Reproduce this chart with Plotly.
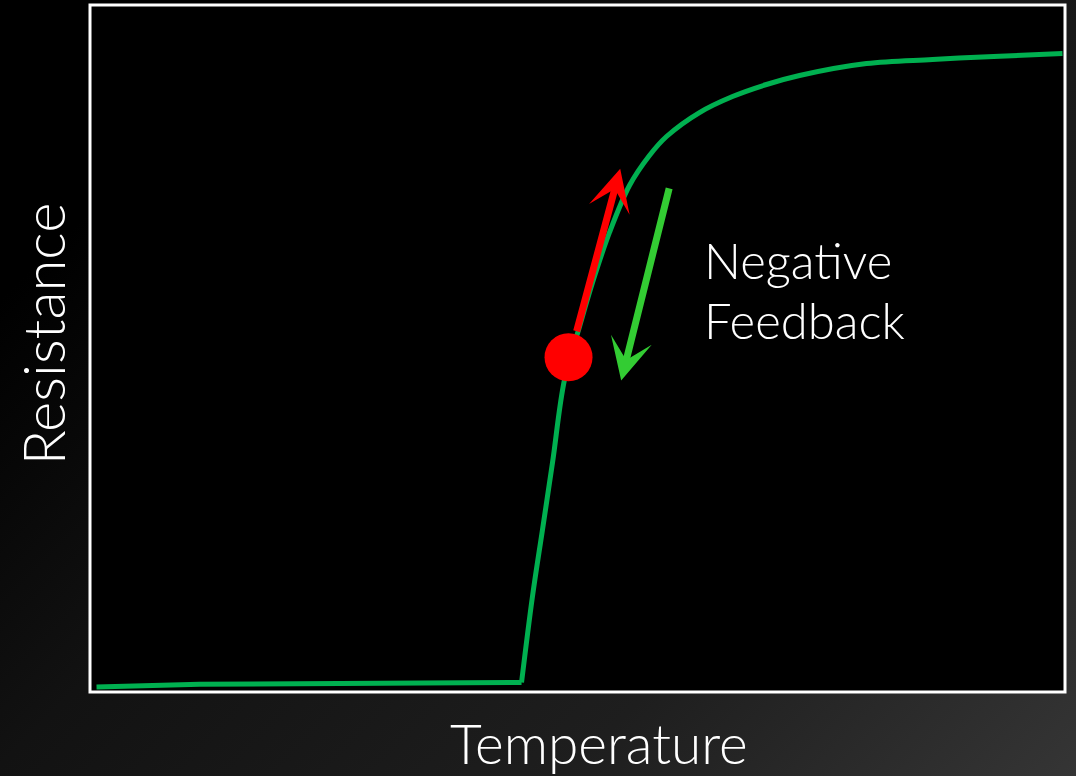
import base64
import plotly.graph_objects as go

# ---- data (arbitrary units: temperature 0-100, resistance 0-100) ----
temperature = [0.67, 11.23, 44.26, 45.38, 46.41, 47.44, 48.67, 50.21, 51.54, 53.28,
               55.33, 57.38, 59.13, 62.51, 65.90, 69.38, 72.77, 79.64, 86.41, 93.28, 99.74]
resistance = [0.73, 1.14, 1.38, 13.90, 23.65, 33.41, 45.49, 53.20, 59.61, 66.89,
              73.73, 78.10, 80.86, 84.35, 86.68, 88.43, 89.74, 91.48, 92.07, 92.55, 92.94]
kink_index = 2  # where the flat part ends and the steep rise starts

operating_point_T = [49.08]
operating_point_R = [48.73]

# feedback arrows: [tail_T, tail_R, tip_T, tip_R]
push_arrow = [49.87, 52.29, 54.38, 76.16]
feedback_arrow = [59.44, 73.54, 54.48, 45.34]

x_label = "Temperature"
y_label = "Resistance"
note_lines = ["Negative", "Feedback"]

CURVE_GREEN = "#00B050"
ARROW_GREEN = "#33CC33"
RED = "#FF0000"
FONT = "Lato"

# ---- background gradient as an inline svg image ----
bg_svg = """<svg xmlns="http://www.w3.org/2000/svg" width="1076" height="776" viewBox="0 0 1076 776">
<defs><linearGradient id="g" gradientUnits="userSpaceOnUse" x1="300" y1="0" x2="1076" y2="776">
<stop offset="0" stop-color="#000000"/>
<stop offset="0.3" stop-color="#121212"/>
<stop offset="0.67" stop-color="#1e1e1e"/>
<stop offset="1" stop-color="#353535"/>
</linearGradient></defs>
<rect width="1076" height="776" fill="url(#g)"/>
</svg>"""
bg_uri = "data:image/svg+xml;base64," + base64.b64encode(bg_svg.encode()).decode()

fig = go.Figure()

# flat part (sharp corner at the kink)
fig.add_trace(go.Scatter(
    x=temperature[:kink_index + 1], y=resistance[:kink_index + 1],
    mode="lines", line=dict(color=CURVE_GREEN, width=5), hoverinfo="skip"))
# rising part (smooth)
fig.add_trace(go.Scatter(
    x=temperature[kink_index:], y=resistance[kink_index:],
    mode="lines", line=dict(color=CURVE_GREEN, width=5, shape="spline", smoothing=1.0),
    hoverinfo="skip"))
# operating point
fig.add_trace(go.Scatter(
    x=operating_point_T, y=operating_point_R, mode="markers",
    marker=dict(color=RED, size=48, line=dict(width=0)), hoverinfo="skip"))

annotations = []
for arr, col in ((push_arrow, RED), (feedback_arrow, ARROW_GREEN)):
    annotations.append(dict(
        x=arr[2], y=arr[3], ax=arr[0], ay=arr[1],
        xref="x", yref="y", axref="x", ayref="y",
        text="", showarrow=True, arrowhead=3, arrowsize=1.0,
        arrowwidth=7, arrowcolor=col, standoff=0, startstandoff=0))

annotations += [
    dict(text=x_label, x=0.522, y=-0.074, xref="paper", yref="paper",
         xanchor="center", yanchor="middle", showarrow=False,
         font=dict(family=FONT, size=55, color="white", weight=300)),
    dict(text=y_label, x=-0.049, y=0.521, xref="paper", yref="paper",
         xanchor="center", yanchor="middle", showarrow=False, textangle=-90,
         font=dict(family=FONT, size=58, color="white", weight=300)),
    dict(text=note_lines[0], x=0.628, y=0.6288, xref="paper", yref="paper",
         xanchor="left", yanchor="middle", showarrow=False,
         font=dict(family=FONT, size=49, color="white", weight=300)),
    dict(text=note_lines[1], x=0.628, y=0.5415, xref="paper", yref="paper",
         xanchor="left", yanchor="middle", showarrow=False,
         font=dict(family=FONT, size=49, color="white", weight=300)),
]

fig.update_layout(
    width=1076, height=776,
    margin=dict(l=90, r=11, t=5, b=84),
    paper_bgcolor="#111111",
    plot_bgcolor="rgba(0,0,0,0)",
    showlegend=False,
    annotations=annotations,
    images=[dict(source=bg_uri, xref="paper", yref="paper", x=-90 / 975, y=1 + 5 / 687,
                 sizex=1076 / 975, sizey=776 / 687, xanchor="left", yanchor="top",
                 sizing="stretch", layer="below")],
    shapes=[dict(type="rect", xref="paper", yref="paper", x0=0, x1=1, y0=0, y1=1,
                 fillcolor="black", line=dict(color="white", width=3), layer="below")],
    xaxis=dict(range=[0, 100], showgrid=False, zeroline=False, showticklabels=False,
               ticks="", showline=False, fixedrange=True),
    yaxis=dict(range=[0, 100], showgrid=False, zeroline=False, showticklabels=False,
               ticks="", showline=False, fixedrange=True),
)

fig.write_html("out.html", config={"displayModeBar": False},
               post_script="document.body.style.margin='0';")
